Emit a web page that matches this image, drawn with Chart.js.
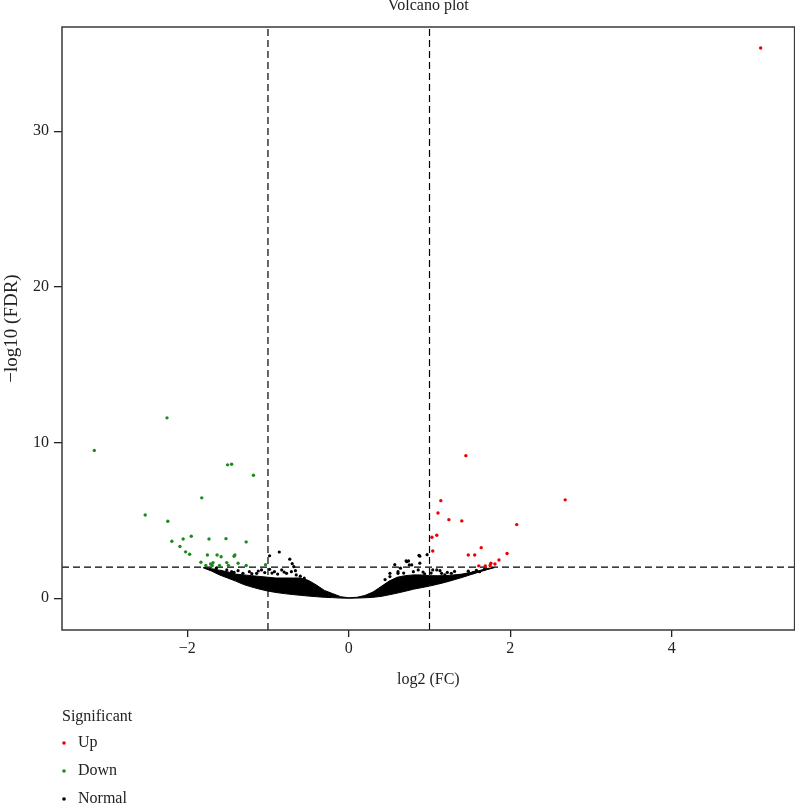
<!DOCTYPE html>
<html lang="en">
<head>
  <meta charset="UTF-8" />
  <title>Volcano plot</title>
  <script src="https://cdn.jsdelivr.net/npm/chart.js"></script>
  <style>
    html, body { margin: 0; padding: 0; background: #fff; }
    #volcano { display: block; }
  </style>
</head>
<body>
  <canvas id="volcano" width="795" height="806"></canvas>

  <script>
    // axis ranges and ticks
    const xRange = [-3.55, 5.52];
    const yRange = [-2.04, 36.7];
    const xTicks = [-2, 0, 2, 4];
    const yTicks = [0, 10, 20, 30];

    // cut-offs (log2 FC = +-1, -log10 FDR = 2)
    const fcCut = [-1, 1];
    const fdrCut = 2;

    // significant genes
    const upX = [5.10, 1.45, 2.68, 1.14, 1.105, 1.24, 1.40, 2.08, 1.03, 1.09, 1.04, 1.64, 1.48, 1.56, 1.96, 1.86, 1.81, 1.76, 1.75, 1.69, 1.61];
    const upY = [35.35, 9.16, 6.32, 6.27, 5.48, 5.05, 4.97, 4.73, 3.92, 4.05, 3.04, 3.25, 2.78, 2.78, 2.87, 2.46, 2.20, 2.25, 2.10, 2.08, 2.08];

    const downX = [-3.15, -2.25, -1.50, -1.45, -1.18, -1.82, -2.52, -2.24, -2.19, -2.05, -1.95, -2.09, -2.02, -1.97, -1.73, -1.52, -1.27, -1.75, -1.63, -1.58, -1.41, -1.42, -1.83, -1.77, -1.71, -1.68, -1.69, -1.60, -1.51, -1.49, -1.37, -1.27, -1.03];
    const downY = [9.49, 11.59, 8.57, 8.61, 7.90, 6.45, 5.35, 4.95, 3.66, 3.81, 3.98, 3.32, 2.98, 2.83, 3.81, 3.83, 3.62, 2.78, 2.78, 2.67, 2.78, 2.70, 2.31, 2.10, 2.20, 2.29, 2.10, 2.10, 2.29, 2.10, 2.25, 2.10, 2.16];

    // scattered non-significant genes above the dense cloud
    const normX = [-0.98, -0.86, -0.73, -0.70, -0.68, -0.66, -1.64, -1.51, -1.45, -1.37, -1.31, -1.23, -1.14, -1.08, -1.04, -0.98, -0.92, -0.83, -0.77, -0.71, -0.65,
                   -1.58, -1.42, -1.20, -1.12, -0.95, -0.88, -0.80, -0.60, -0.55,
                   0.57, 0.71, 0.74, 0.87, 0.88, 0.75, 0.72, 0.97, 0.64, 0.78, 0.61, 0.51, 0.86, 1.09, 1.15, 1.04, 1.13, 1.27, 1.35, 1.44, 1.54, 1.62, 1.68, 0.51, 0.61, 0.80, 0.94, 1.19, 0.88,
                   0.45, 0.68, 0.92, 1.02, 1.22, 1.31, 1.48, 1.58];
    const normY = [2.73, 2.97, 2.51, 2.22, 2.03, 1.77, 1.93, 1.82, 1.71, 1.77, 1.60, 1.71, 1.60, 1.82, 1.65, 1.86, 1.71, 1.82, 1.60, 1.71, 1.50,
                   1.72, 1.66, 1.58, 1.75, 1.62, 1.55, 1.68, 1.42, 1.30,
                   2.16, 2.40, 2.40, 2.76, 2.25, 2.14, 2.35, 2.80, 1.93, 2.14, 1.60, 1.39, 1.82, 1.82, 1.60, 1.82, 1.77, 1.60, 1.39, 1.50, 1.65, 1.71, 1.86, 1.60, 1.71, 1.71, 1.56, 1.50, 2.70,
                   1.20, 1.62, 1.68, 1.62, 1.66, 1.72, 1.74, 1.80];

    // dense cloud of non-significant genes: upper and lower edge
    const cloudX    = [-1.8, -1.7, -1.6, -1.5, -1.4, -1.3, -1.2, -1.1, -1.0, -0.9, -0.8, -0.7, -0.6, -0.5, -0.4, -0.3, -0.2, -0.1, 0.0, 0.1, 0.2, 0.3, 0.4, 0.5, 0.6, 0.7, 0.8, 0.9, 1.0, 1.1, 1.2, 1.3, 1.4, 1.5, 1.6, 1.7, 1.8];
    const cloudHigh = [1.98, 1.9, 1.8, 1.7, 1.55, 1.5, 1.45, 1.4, 1.35, 1.3, 1.3, 1.3, 1.3, 1.15, 0.85, 0.5, 0.3, 0.1, 0.03, 0.06, 0.18, 0.4, 0.75, 1.1, 1.35, 1.45, 1.5, 1.5, 1.45, 1.45, 1.45, 1.5, 1.55, 1.65, 1.75, 1.9, 1.98];
    const cloudLow  = [1.95, 1.75, 1.5, 1.3, 1.1, 0.88, 0.72, 0.58, 0.46, 0.37, 0.3, 0.24, 0.19, 0.14, 0.1, 0.06, 0.04, 0.01, 0.0, 0.01, 0.03, 0.06, 0.12, 0.22, 0.33, 0.45, 0.58, 0.68, 0.78, 0.9, 1.03, 1.18, 1.33, 1.5, 1.66, 1.82, 1.96];

    const upColor = '#ee0000';
    const downColor = '#1f8a1f';
    const normColor = '#000000';

    const pts = (xs, ys) => xs.map((x, i) => ({ x: x, y: ys[i] }));
    const fmt = v => v < 0 ? '\u2212' + Math.abs(v) : String(v);

    Chart.defaults.font.family = "'Liberation Serif', 'DejaVu Serif', serif";
    Chart.defaults.color = '#222';

    // box around plot + legend at the bottom left
    const extras = {
      id: 'extras',
      afterDraw(chart) {
        const { ctx, chartArea: a } = chart;
        ctx.save();
        ctx.strokeStyle = '#3a3a3a';
        ctx.lineWidth = 1.5;
        ctx.strokeRect(a.left, a.top, a.right - a.left, a.bottom - a.top);

        ctx.font = "16px 'Liberation Serif', serif";
        ctx.fillStyle = '#222';
        ctx.textBaseline = 'middle';
        ctx.fillText('Significant', 62, 717);
        const items = [['Up', upColor], ['Down', downColor], ['Normal', normColor]];
        items.forEach((it, i) => {
          const y = 743 + i * 28;
          ctx.fillStyle = it[1];
          ctx.beginPath();
          ctx.arc(64, y, 1.8, 0, Math.PI * 2);
          ctx.fill();
          ctx.fillStyle = '#222';
          ctx.fillText(it[0], 78, y);
        });
        ctx.restore();
      }
    };

    const dashed = {
      showLine: true, pointRadius: 0, borderColor: '#000', borderWidth: 1.2,
      borderDash: [7, 4], fill: false
    };

    new Chart(document.getElementById('volcano'), {
      type: 'scatter',
      data: {
        datasets: [
          { label: 'Up', data: pts(upX, upY), backgroundColor: upColor, pointRadius: 1.7, borderWidth: 0 },
          { label: 'Down', data: pts(downX, downY), backgroundColor: downColor, pointRadius: 1.7, borderWidth: 0 },
          { label: 'Normal', data: pts(normX, normY), backgroundColor: normColor, pointRadius: 1.6, borderWidth: 0 },
          { label: 'cloud', data: pts(cloudX, cloudHigh), showLine: true, pointRadius: 0, borderColor: '#000', borderWidth: 1, backgroundColor: '#000', fill: '+1' },
          { label: 'cloudLow', data: pts(cloudX, cloudLow), showLine: true, pointRadius: 0, borderColor: '#000', borderWidth: 1, fill: false },
          Object.assign({ label: 'fcLow', data: [{ x: fcCut[0], y: yRange[0] }, { x: fcCut[0], y: yRange[1] }] }, dashed),
          Object.assign({ label: 'fcHigh', data: [{ x: fcCut[1], y: yRange[0] }, { x: fcCut[1], y: yRange[1] }] }, dashed),
          Object.assign({ label: 'fdr', data: [{ x: xRange[0], y: fdrCut }, { x: xRange[1], y: fdrCut }] }, dashed)
        ]
      },
      options: {
        responsive: false,
        animation: false,
        layout: { autoPadding: false, padding: { left: 1.1, right: 0.4, top: 0, bottom: 116.4 } },
        plugins: {
          legend: { display: false },
          tooltip: { enabled: false },
          title: {
            display: true, text: 'Volcano plot', fullSize: false,
            font: { size: 16, weight: 'normal' }, color: '#222',
            padding: { top: -4, bottom: 11.8 }
          }
        },
        scales: {
          x: {
            type: 'linear', min: xRange[0], max: xRange[1],
            afterBuildTicks: s => { s.ticks = xTicks.map(v => ({ value: v })); },
            afterFit: s => { s.height = 59.6; s.paddingLeft = 0; s.paddingRight = 0; },
            ticks: { font: { size: 16 }, color: '#222', padding: 2, maxRotation: 0, callback: fmt },
            grid: { drawOnChartArea: false, drawTicks: true, tickLength: 7, color: '#222', lineWidth: 1.3 },
            border: { display: false },
            title: { display: true, text: 'log2 (FC)', font: { size: 16 }, color: '#222', padding: 0 }
          },
          y: {
            type: 'linear', min: yRange[0], max: yRange[1],
            afterBuildTicks: s => { s.ticks = yTicks.map(v => ({ value: v })); },
            afterFit: s => { s.width = 60.9; s.paddingTop = 0; s.paddingBottom = 0; },
            ticks: { font: { size: 16 }, color: '#222', padding: 5, callback: fmt },
            grid: { drawOnChartArea: false, drawTicks: true, tickLength: 8, color: '#222', lineWidth: 1.3 },
            border: { display: false },
            title: { display: true, text: '\u2212log10 (FDR)', font: { size: 19 }, color: '#222', padding: 0 }
          }
        }
      },
      plugins: [extras]
    });
  </script>
</body>
</html>
